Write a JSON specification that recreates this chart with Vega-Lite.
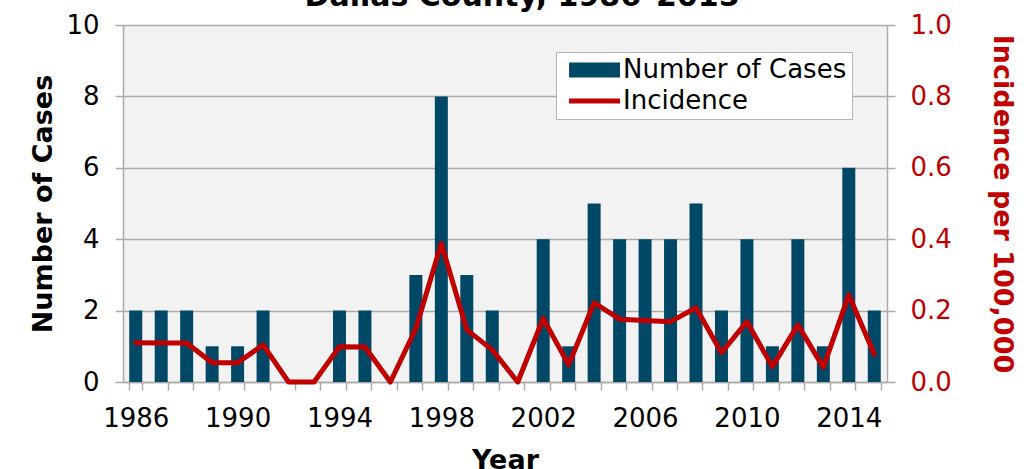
{
  "$schema": "https://vega.github.io/schema/vega-lite/v6.json",
  "width": 764,
  "height": 357,
  "autosize": {"type": "none"},
  "padding": {"left": 123, "top": 25, "right": 147, "bottom": 87},
  "background": "white",
  "config": {
    "font": "DejaVu Sans",
    "view": {"fill": "#f2f2f2", "stroke": null}
  },
  "title": {
    "text": "Dallas County, 1986–2015",
    "fontSize": 30,
    "fontWeight": "bold",
    "color": "black",
    "anchor": "middle",
    "offset": 0,
    "dx": 17
  },
  "data": {
    "values": [
      {"Year": 1986, "Cases": 2, "Incidence": 0.11},
      {"Year": 1987, "Cases": 2, "Incidence": 0.109},
      {"Year": 1988, "Cases": 2, "Incidence": 0.109},
      {"Year": 1989, "Cases": 1, "Incidence": 0.054},
      {"Year": 1990, "Cases": 1, "Incidence": 0.054},
      {"Year": 1991, "Cases": 2, "Incidence": 0.104},
      {"Year": 1992, "Cases": 0, "Incidence": 0},
      {"Year": 1993, "Cases": 0, "Incidence": 0},
      {"Year": 1994, "Cases": 2, "Incidence": 0.099},
      {"Year": 1995, "Cases": 2, "Incidence": 0.098},
      {"Year": 1996, "Cases": 0, "Incidence": 0},
      {"Year": 1997, "Cases": 3, "Incidence": 0.15},
      {"Year": 1998, "Cases": 8, "Incidence": 0.388},
      {"Year": 1999, "Cases": 3, "Incidence": 0.146},
      {"Year": 2000, "Cases": 2, "Incidence": 0.09},
      {"Year": 2001, "Cases": 0, "Incidence": 0},
      {"Year": 2002, "Cases": 4, "Incidence": 0.178},
      {"Year": 2003, "Cases": 1, "Incidence": 0.048},
      {"Year": 2004, "Cases": 5, "Incidence": 0.222},
      {"Year": 2005, "Cases": 4, "Incidence": 0.176},
      {"Year": 2006, "Cases": 4, "Incidence": 0.172},
      {"Year": 2007, "Cases": 4, "Incidence": 0.169},
      {"Year": 2008, "Cases": 5, "Incidence": 0.208},
      {"Year": 2009, "Cases": 2, "Incidence": 0.082},
      {"Year": 2010, "Cases": 4, "Incidence": 0.169},
      {"Year": 2011, "Cases": 1, "Incidence": 0.043},
      {"Year": 2012, "Cases": 4, "Incidence": 0.16},
      {"Year": 2013, "Cases": 1, "Incidence": 0.041},
      {"Year": 2014, "Cases": 6, "Incidence": 0.244},
      {"Year": 2015, "Cases": 2, "Incidence": 0.078}
    ]
  },
  "encoding": {
    "x": {
      "field": "Year",
      "type": "ordinal",
      "scale": {"paddingInner": 0.49, "paddingOuter": 0.245},
      "axis": {
        "title": "Year",
        "titleFontSize": 27,
        "titleFontWeight": "bold",
        "titleColor": "black",
        "titlePadding": 16,
        "labelAngle": 0,
        "labelFontSize": 26,
        "labelColor": "black",
        "labelPadding": 15,
        "labelOverlap": false,
        "labelBound": false,
        "labelExpr": "(datum.value - 1986) % 4 === 0 ? datum.label : ''",
        "tickBand": "extent",
        "tickSize": 8,
        "tickColor": "#ababab",
        "tickWidth": 1.5,
        "domainColor": "#ababab",
        "domainWidth": 1.5,
        "grid": false
      }
    }
  },
  "layer": [
    {
      "mark": {"type": "bar"},
      "encoding": {
        "y": {
          "field": "Cases",
          "type": "quantitative",
          "scale": {"domain": [0, 10]},
          "axis": {
            "orient": "left",
            "title": "Number of Cases",
            "titleFontSize": 27,
            "titleFontWeight": "bold",
            "titleColor": "black",
            "titlePadding": 8,
            "values": [0, 2, 4, 6, 8, 10],
            "labelFontSize": 26,
            "labelColor": "black",
            "labelPadding": 16,
            "tickSize": 8,
            "tickColor": "#ababab",
            "tickWidth": 1.5,
            "domainColor": "#ababab",
            "domainWidth": 1.5,
            "grid": true,
            "gridColor": "#ababab",
            "gridWidth": 1.5
          }
        },
        "color": {
          "datum": "Number of Cases",
          "type": "nominal",
          "scale": {"domain": ["Number of Cases", "Incidence"], "range": ["#014866", "#C00000"]},
          "legend": {
            "title": null,
            "orient": "none",
            "legendX": 433,
            "legendY": 27,
            "padding": 5,
            "fillColor": "white",
            "strokeColor": "#b5b5b5",
            "labelFontSize": 26,
            "labelLimit": 500,
            "labelColor": "black",
            "labelExpr": "datum.label + '\u00a0\u00a0'",
            "symbolSize": 676,
            "labelOffset": 36,
            "rowPadding": 5,
            "encode": {
              "symbols": {
                "update": {
                  "shape": {"signal": "datum.value === 'Incidence' ? 'M-0.38,-0.19H3.54V0.19H-0.38Z' : 'M-0.38,-0.58H3.54V0.58H-0.38Z'"},
                  "fill": {"signal": "datum.value === 'Incidence' ? '#C00000' : '#014866'"},
                  "fillOpacity": {"value": 1},
                  "strokeWidth": {"value": 0}
                }
              }
            }
          }
        }
      }
    },
    {
      "mark": {"type": "line", "strokeWidth": 5, "strokeJoin": "round", "strokeCap": "round"},
      "encoding": {
        "y": {
          "field": "Incidence",
          "type": "quantitative",
          "scale": {"domain": [0, 1]},
          "axis": {
            "orient": "right",
            "title": "Incidence per 100,000",
            "titleFontSize": 27,
            "titleFontWeight": "bold",
            "titleColor": "#C00000",
            "titlePadding": 36,
            "values": [0, 0.2, 0.4, 0.6, 0.8, 1.0],
            "format": ".1f",
            "labelFontSize": 26,
            "labelColor": "#C00000",
            "labelPadding": 15,
            "tickSize": 8,
            "tickColor": "#ababab",
            "tickWidth": 1.5,
            "domainColor": "#ababab",
            "domainWidth": 1.5,
            "grid": false
          }
        },
        "color": {"datum": "Incidence", "type": "nominal"}
      }
    }
  ],
  "resolve": {"scale": {"y": "independent"}}
}
